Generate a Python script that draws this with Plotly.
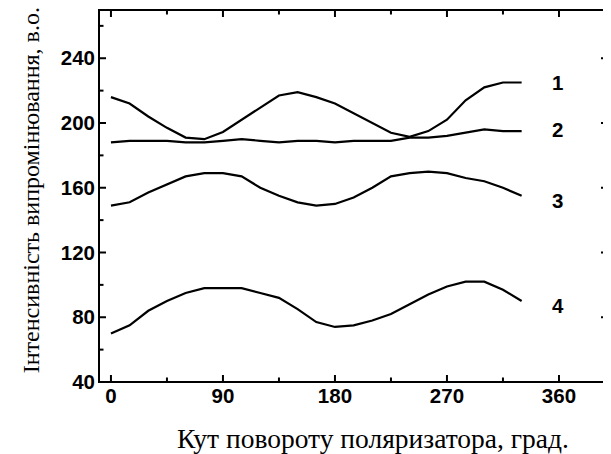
import plotly.graph_objects as go

angle = [0, 15, 30, 45, 60, 75, 90, 105, 120, 135, 150, 165, 180, 195, 210, 225, 240, 255, 270, 285, 300, 315, 330]
curve1 = [216, 212, 204, 197, 191, 190, 194.5, 202, 210, 217, 219, 216, 212, 206, 200, 194, 191.5, 195, 202, 214, 222, 225, 225]
curve2 = [188, 189, 189, 189, 188, 188, 189, 190, 189, 188, 189, 189, 188, 189, 189, 189, 191, 191, 192, 194, 196, 195, 195]
curve3 = [149, 151, 157, 162, 167, 169, 169, 167, 160, 155, 151, 149, 150, 154, 160, 167, 169, 170, 169, 166, 164, 160, 155]
curve4 = [70, 75, 84, 90, 95, 98, 98, 98, 95, 92, 85, 77, 74, 75, 78, 82, 88, 94, 99, 102, 102, 97, 90]
series = [("1", curve1), ("2", curve2), ("3", curve3), ("4", curve4)]
label_x = 359
label_y = [225, 196, 152, 87]

x_ticks = [0, 90, 180, 270, 360]
x_minor = [45, 135, 225, 315]
y_ticks = [40, 80, 120, 160, 200, 240]
y_minor = [60, 100, 140, 180, 220, 260]

x_range = [-9.6, 399.4]
y_range = [40, 269.8]

W, H = 603, 446
M = dict(l=91, r=3, t=2, b=72)
plot_w = W - M["l"] - M["r"]
plot_h = H - M["t"] - M["b"]
ux = (x_range[1] - x_range[0]) / plot_w   # data units per pixel
uy = (y_range[1] - y_range[0]) / plot_h

fig = go.Figure()
for name, ys in series:
    fig.add_trace(go.Scatter(x=angle, y=ys, mode="lines", name=name,
                             line=dict(color="black", width=2.2)))

x0, x1 = x_range
y0, y1 = y_range

# inside tick marks (major and minor) mirrored on all four sides
tx, ty = [], []
for vals, L in ((x_ticks, 7), (x_minor, 4.5)):
    for v in vals:
        tx += [v, v, None, v, v, None]
        ty += [y0, y0 + L * uy, None, y1, y1 - L * uy, None]
for vals, L in ((y_ticks, 7), (y_minor, 4.5)):
    for v in vals:
        tx += [x0, x0 + L * ux, None, x1, x1 - L * ux, None]
        ty += [v, v, None, v, v, None]
fig.add_trace(go.Scatter(x=tx, y=ty, mode="lines", line=dict(color="black", width=2),
                         hoverinfo="skip", showlegend=False))

# frame around the plot area
fig.add_shape(type="rect", xref="paper", yref="paper", x0=0, y0=0, x1=1, y1=1,
              line=dict(color="black", width=2), layer="above")

for (name, _), ly in zip(series, label_y):
    fig.add_annotation(x=label_x, y=ly, text=name, showarrow=False,
                       font=dict(family="Liberation Sans, Arial", size=20.5, color="black", weight="bold"))

fig.add_annotation(xref="paper", yref="paper", x=0.538, y=-0.152,
                   text="Кут повороту поляризатора, град.", showarrow=False,
                   xanchor="center", yanchor="middle",
                   font=dict(family="Liberation Serif, Times New Roman", size=27.5, color="black"))
fig.add_annotation(xref="paper", yref="paper", x=-0.132, y=0.515,
                   text="Інтенсивність випромінювання, в.о.", showarrow=False, textangle=-90,
                   xanchor="center", yanchor="middle",
                   font=dict(family="Liberation Serif, Times New Roman", size=24, color="black"))

tickfont = dict(family="Liberation Sans, Arial", size=20.5, color="black", weight="bold")
axis_common = dict(showline=False, ticks="inside", ticklen=7, tickcolor="rgba(0,0,0,0)",
                   showgrid=False, zeroline=False, automargin=False, tickfont=tickfont)

fig.update_layout(
    width=W, height=H, showlegend=False,
    paper_bgcolor="white", plot_bgcolor="white",
    margin=dict(**M, autoexpand=False),
    xaxis=dict(range=x_range, tickvals=x_ticks, ticktext=[str(v) for v in x_ticks],
               ticklabelstandoff=-1, **axis_common),
    yaxis=dict(range=y_range, tickvals=y_ticks, ticktext=[str(v) for v in y_ticks],
               ticklabelstandoff=3, **axis_common),
)

fig.write_html("out.html")
